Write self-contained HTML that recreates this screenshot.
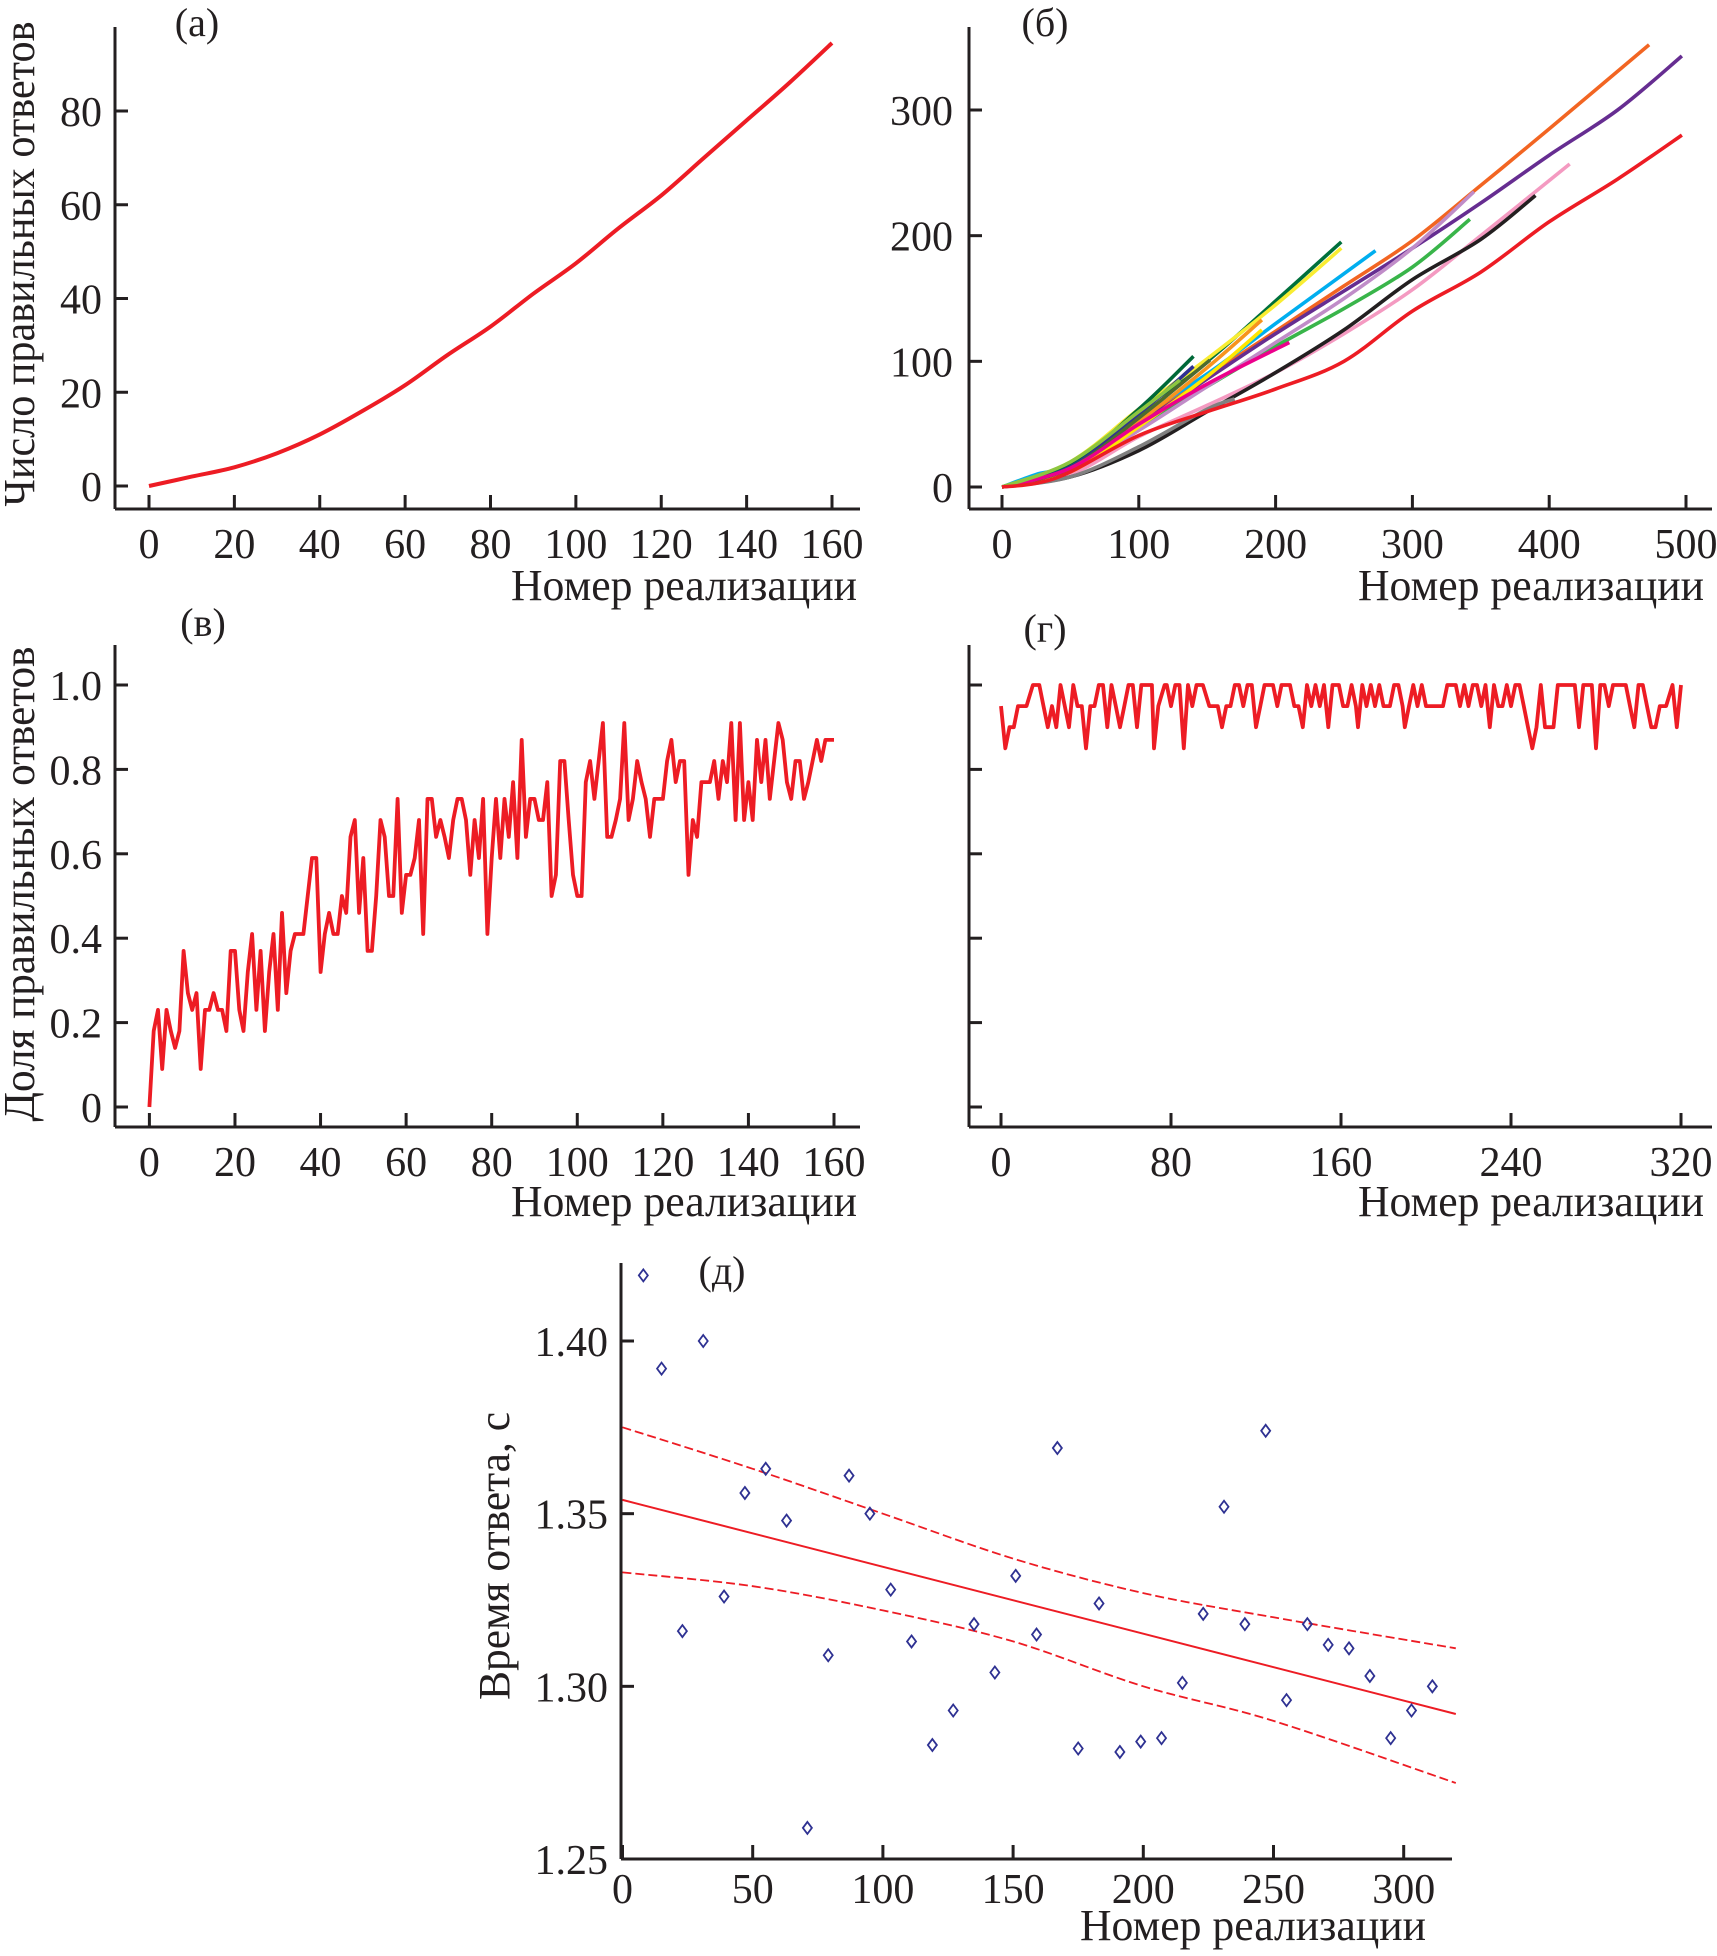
<!DOCTYPE html>
<html><head><meta charset="utf-8">
<style>
html,body{margin:0;padding:0;background:#fff;}
svg{display:block;font-family:"Liberation Serif","DejaVu Serif",serif;}
text{fill:#231f20;}
</style></head>
<body>
<svg id="fig" xmlns="http://www.w3.org/2000/svg" width="1717" height="1956" viewBox="0 0 1717 1956">
<g id="axes"></g>
</svg>
<script>
// ---------- data ----------
// panel (a): cumulative correct answers
const aX = [0,10,20,30,40,50,60,70,80,90,100,110,120,130,140,150,160];
const aY = [0,2,4,7,11,16,21.5,28,34,41,47.5,55,62,70,78,86,94.5];
const aXTicks = [0,20,40,60,80,100,120,140,160];
const aYTicks = [0,20,40,60,80];
// panel (б): many subjects
const bColors = ["#f26522","#662d91","#f49ac1","#231f20","#39b54a","#c08cc8","#00703c","#f9ed32","#00aeef","#f7941d","#ffe600","#006838","#2e3192","#4d6b2f","#808080","#ec008c","#8dc63f","#ed1c24"];
const bXs = [
 [0,50,100,150,200,250,300,350,400,473],
 [0,50,100,150,200,250,300,350,400,450,497],
 [0,50,100,150,200,250,300,350,415],
 [0,50,100,150,200,250,300,350,390],
 [0,50,100,150,200,250,300,342],
 [0,50,100,150,200,250,300,345],
 [0,50,100,150,200,248],
 [0,50,100,150,200,248],
 [0,25,50,100,150,200,273],
 [0,50,100,150,190],
 [0,50,100,150,190],
 [0,50,100,140],
 [0,50,100,140],
 [0,50,100,152],
 [0,50,100,150,170],
 [0,50,100,150,210],
 [0,50,100,130],
 [0,25,50,100,150,200,250,300,350,400,450,497]
];
const bYs = [
 [0,16,52,88,124,160,196,240,285,352],
 [0,14,50,86,122,156,190,226,264,300,343],
 [0,10,40,65,91,122,157,200,257],
 [0,8,29,60,91,125,165,197,232],
 [0,14,48,80,112,142,175,213],
 [0,13,45,80,115,150,190,235],
 [0,18,60,100,148,195],
 [0,20,62,102,145,190],
 [0,10,18,55,90,130,188],
 [0,14,52,95,133],
 [0,12,48,88,125],
 [0,18,62,104],
 [0,16,58,96],
 [0,15,55,101],
 [0,8,32,62,70],
 [0,15,50,82,115],
 [0,20,60,85],
 [0,3,12,41,60,78,100,140,171,211,245,280]
];
const bXTicks = [0,100,200,300,400,500];
const bYTicks = [0,100,200,300];
// panel (в): share of correct answers
const cY = [0,0.18,0.23,0.09,0.23,0.18,0.14,0.18,0.37,0.27,0.23,0.27,0.09,0.23,0.23,0.27,0.23,0.23,0.18,0.37,0.37,0.23,0.18,0.32,0.41,0.23,0.37,0.18,0.32,0.41,0.23,0.46,0.27,0.37,0.41,0.41,0.41,0.5,0.59,0.59,0.32,0.41,0.46,0.41,0.41,0.5,0.46,0.64,0.68,0.46,0.59,0.37,0.37,0.5,0.68,0.64,0.5,0.5,0.73,0.46,0.55,0.55,0.59,0.68,0.41,0.73,0.73,0.64,0.68,0.64,0.59,0.68,0.73,0.73,0.68,0.55,0.68,0.59,0.73,0.41,0.59,0.73,0.59,0.73,0.64,0.77,0.59,0.87,0.64,0.73,0.73,0.68,0.68,0.77,0.5,0.55,0.82,0.82,0.68,0.55,0.5,0.5,0.77,0.82,0.73,0.82,0.91,0.64,0.64,0.68,0.73,0.91,0.68,0.73,0.82,0.77,0.73,0.64,0.73,0.73,0.73,0.82,0.87,0.77,0.82,0.82,0.55,0.68,0.64,0.77,0.77,0.77,0.82,0.73,0.82,0.77,0.91,0.68,0.91,0.68,0.77,0.68,0.87,0.77,0.87,0.73,0.82,0.91,0.87,0.77,0.73,0.82,0.82,0.73,0.77,0.82,0.87,0.82,0.87,0.87,0.87];
const cXTicks = [0,20,40,60,80,100,120,140,160];
const cYTicks = [0,0.2,0.4,0.6,0.8,1.0];
const cYLabels = ["0","0.2","0.4","0.6","0.8","1.0"];
// panel (г)
const dX = [0,2,4,6,8,12,15,18,20,22,24,26,28,30,32,34,36,38,40,42,44,46,48,50,52,54,56,58,60,62,64,66,71,72,74,77,78,80,82,84,86,88,90,92,95,98,102,104,106,108,110,112,114,116,118,120,122,124,128,130,132,136,138,140,142,144,146,148,150,152,154,156,159,161,163,165,167,168,170,172,174,176,178,180,183,185,187,189,190,192,194,196,198,200,208,210,214,216,218,220,222,224,226,228,230,232,234,236,238,240,242,244,246,248,250,252,254,256,260,262,270,272,274,278,280,282,284,286,288,294,296,298,300,302,304,306,308,310,313,316,318,320];
const dY = [0.95,0.85,0.9,0.9,0.95,0.95,1,1,0.95,0.9,0.95,0.9,1,0.95,0.9,1,0.95,0.95,0.85,0.95,0.95,1,1,0.9,1,0.95,0.9,0.95,1,1,0.9,1,1,0.85,0.95,1,1,0.95,1,1,0.85,1,0.95,1,1,0.95,0.95,0.9,0.95,0.95,1,1,0.95,1,1,0.9,0.95,1,1,0.95,1,1,0.95,0.95,0.9,1,0.95,1,0.95,1,0.9,1,1,0.95,0.95,1,0.95,0.9,1,0.95,1,0.95,1,0.95,0.95,1,1,0.95,0.9,0.95,1,0.95,1,0.95,0.95,1,1,0.95,1,0.95,1,1,0.95,1,0.9,1,0.95,0.95,1,0.95,1,1,0.95,0.9,0.85,0.9,1,0.9,0.9,1,1,0.9,1,1,0.85,1,1,0.95,1,1,0.95,0.9,1,1,0.95,0.9,0.9,0.95,0.95,1,0.9,1];
const dXTicks = [0,80,160,240,320];
// panel (д): response time
const eX = [8,15,23,31,39,47,55,63,71,79,87,95,103,111,119,127,135,143,151,159,167,175,183,191,199,207,215,223,231,239,247,255,263,271,279,287,295,303,311];
const eY = [1.419,1.392,1.316,1.400,1.326,1.356,1.363,1.348,1.259,1.309,1.361,1.350,1.328,1.313,1.283,1.293,1.318,1.304,1.332,1.315,1.369,1.282,1.324,1.281,1.284,1.285,1.301,1.321,1.352,1.318,1.374,1.296,1.318,1.312,1.311,1.303,1.285,1.293,1.300];
const eFitX = [0,320];
const eFitY = [1.354,1.292];
const eBandX = [0,50,100,150,200,250,320];
const eUpper = [1.375,1.363,1.350,1.337,1.327,1.320,1.311];
const eLower = [1.333,1.329,1.322,1.313,1.300,1.290,1.272];
const eXTicks = [0,50,100,150,200,250,300];
const eYTicks = [1.25,1.30,1.35,1.40];
const eYLabels = ["1.25","1.30","1.35","1.40"];

// ---------- drawing ----------
const NS = "http://www.w3.org/2000/svg";
const root = document.getElementById("axes");
function el(tag, attrs, parent){
  const e = document.createElementNS(NS, tag);
  for (const k in attrs) e.setAttribute(k, attrs[k]);
  (parent||root).appendChild(e);
  return e;
}
function lin(d0,d1,r0,r1){ return v => r0 + (v-d0)*(r1-r0)/(d1-d0); }

function frame(p){
  const g = el("g",{});
  
  
  const ya = el("line",{x1:p.ax,y1:p.top,x2:p.ax,y2:p.ay,stroke:"#231f20","stroke-width":3},g);
  
  
  const xa = el("line",{x1:p.ax,y1:p.ay,x2:p.right,y2:p.ay,stroke:"#231f20","stroke-width":3},g);
  
  
  p.xt.forEach((v,i)=>{
    const x = p.sx(v);
    const t = el("line",{x1:x,y1:p.ay,x2:x,y2:p.ay-14,stroke:"#231f20","stroke-width":3},g);
    
    
    const l = el("text",{x:x,y:p.xlb,"text-anchor":"middle","font-size":42},g);
    
    
    l.textContent = String(v);
  });
  p.yt.forEach((v,i)=>{
    const y = p.sy(v);
    const t = el("line",{x1:p.ax,y1:y,x2:p.ax+13,y2:y,stroke:"#231f20","stroke-width":3},g);
    
    
    if (p.yl){
      const l = el("text",{x:p.ylx,y:y+15,"text-anchor":"end","font-size":42},g);
      
      
      l.textContent = p.yl[i];
    }
  });
  const xt = el("text",{x:p.xtx,y:p.xty,"text-anchor":"end","font-size":44,textLength:346,lengthAdjust:"spacingAndGlyphs"},g);
  
  
  xt.textContent = "Номер реализации";
  if (p.ytitle){
    const yt = el("text",{x:0,y:0,"text-anchor":"middle","font-size":44,transform:`translate(${p.ytx},${p.yty}) rotate(-90)`,textLength:p.ytl,lengthAdjust:"spacingAndGlyphs"},g);
    
    
    yt.textContent = p.ytitle;
  }
  const pl = el("text",{x:p.plx,y:p.ply,"text-anchor":"middle","font-size":40},g);
  
  
  pl.textContent = p.label;
  return g;
}
function poly(xs,ys,sx,sy){ return xs.map((x,i)=>sx(x).toFixed(1)+","+sy(ys[i]).toFixed(1)).join(" "); }
function smooth(xs,ys,sx,sy){
  const P = xs.map((x,i)=>[sx(x),sy(ys[i])]);
  let d = "M"+P[0][0].toFixed(1)+","+P[0][1].toFixed(1);
  for (let i=0;i<P.length-1;i++){
    const p0=P[Math.max(0,i-1)],p1=P[i],p2=P[i+1],p3=P[Math.min(P.length-1,i+2)];
    const c1=[p1[0]+(p2[0]-p0[0])/6,p1[1]+(p2[1]-p0[1])/6];
    const c2=[p2[0]-(p3[0]-p1[0])/6,p2[1]-(p3[1]-p1[1])/6];
    d+=` C${c1[0].toFixed(1)},${c1[1].toFixed(1)} ${c2[0].toFixed(1)},${c2[1].toFixed(1)} ${p2[0].toFixed(1)},${p2[1].toFixed(1)}`;
  }
  return d;
}

// Panel a
{
  const sx = lin(0,160,149,832), sy = lin(0,80,486,111);
  const g = frame({name:"panel-a",ax:115,top:27,ay:509,right:860,sx,sy,xt:aXTicks,yt:aYTicks,yl:aYTicks.map(String),ylx:102,xlb:558,xtx:857,xty:600,ytitle:"Число правильных ответов",ytx:34,yty:264,ytl:485,plx:197,ply:36,label:"(а)"});
  const p = el("path",{d:smooth(aX,aY,sx,sy),fill:"none",stroke:"#ed1c24","stroke-width":4},g);
  
  
}
// Panel б
{
  const sx = lin(0,500,1002,1686), sy = lin(0,300,487,110);
  const g = frame({name:"panel-b",ax:969,top:27,ay:509,right:1712,sx,sy,xt:bXTicks,yt:bYTicks,yl:bYTicks.map(String),ylx:953,xlb:558,xtx:1704,xty:600,ytitle:null,plx:1045,ply:36,label:"(б)"});
  bXs.forEach((xs,i)=>{
    const p = el("path",{d:smooth(xs,bYs[i],sx,sy),fill:"none",stroke:bColors[i],"stroke-width":3.6},g);
    
    
  });
}
// Panel в
{
  const sx = lin(0,160,149.4,834), sy = lin(0,1,1107,685);
  const g = frame({name:"panel-c",ax:115,top:645,ay:1127,right:860,sx,sy,xt:cXTicks,yt:cYTicks,yl:cYLabels,ylx:102,xlb:1176,xtx:857,xty:1216,ytitle:"Доля правильных ответов",ytx:34,yty:884,ytl:475,plx:203,ply:636,label:"(в)"});
  const xs = cY.map((v,i)=>i);
  const p = el("polyline",{points:poly(xs,cY,sx,sy),fill:"none",stroke:"#ed1c24","stroke-width":3.8,"stroke-linejoin":"round"},g);
  
  
}
// Panel г
{
  const sx = lin(0,320,1001,1681), sy = lin(0,1,1107,685);
  const g = frame({name:"panel-d",ax:969,top:645,ay:1127,right:1712,sx,sy,xt:dXTicks,yt:cYTicks,yl:null,xlb:1176,xtx:1704,xty:1216,ytitle:null,plx:1045,ply:642,label:"(г)"});
  const p = el("polyline",{points:poly(dX,dY,sx,sy),fill:"none",stroke:"#ed1c24","stroke-width":3.8,"stroke-linejoin":"round"},g);
  
  
}
// Panel д
{
  const sx = lin(0,300,622.5,1403.7), sy = lin(1.25,1.40,1859,1341);
  const g = frame({name:"panel-e",ax:621,top:1263,ay:1859,right:1452,sx,sy,xt:eXTicks,yt:eYTicks,yl:eYLabels,ylx:608,xlb:1903,xtx:1426,xty:1940,ytitle:"Время ответа, с",ytx:509,yty:1556,ytl:288,plx:722,ply:1284,label:"(д)"});
  const fit = el("polyline",{points:poly(eFitX,eFitY,sx,sy),fill:"none",stroke:"#ed1c24","stroke-width":2},g);
  
  
  const up = el("path",{d:smooth(eBandX,eUpper,sx,sy),fill:"none",stroke:"#ed1c24","stroke-width":1.8,"stroke-dasharray":"9,4"},g);
  
  
  const lo = el("path",{d:smooth(eBandX,eLower,sx,sy),fill:"none",stroke:"#ed1c24","stroke-width":1.8,"stroke-dasharray":"9,4"},g);
  
  
  eX.forEach((x,i)=>{
    const cx = sx(x), cy = sy(eY[i]);
    const m = el("path",{d:`M${cx},${cy-6} L${cx+4.5},${cy} L${cx},${cy+6} L${cx-4.5},${cy} Z`,fill:"none",stroke:"#2e3192","stroke-width":1.8},g);
    
    
  });
}
</script>
</body></html>
